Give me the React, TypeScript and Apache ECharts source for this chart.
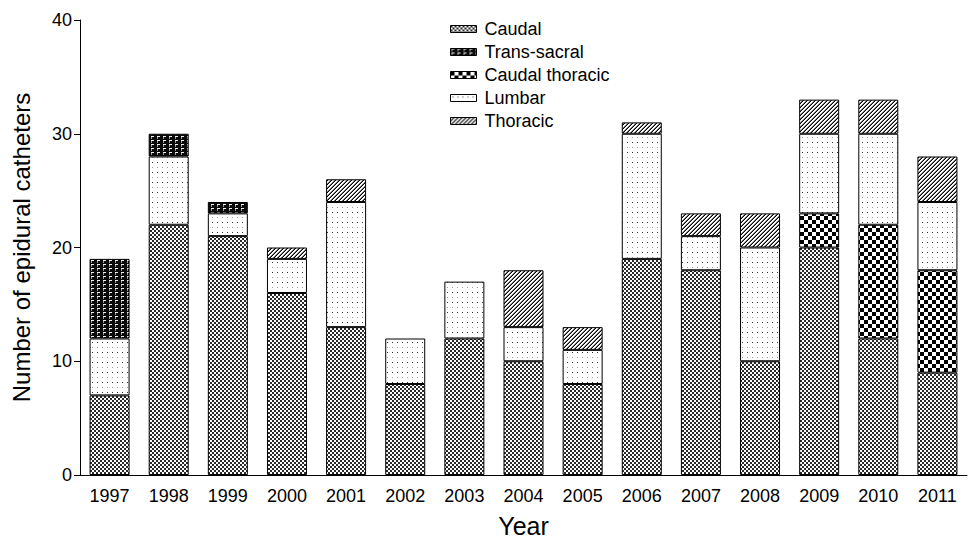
import React, { useEffect, useRef } from "react";
import * as echarts from "echarts";

const years = ["1997", "1998", "1999", "2000", "2001", "2002", "2003", "2004", "2005", "2006", "2007", "2008", "2009", "2010", "2011"];
const caudal = [7, 22, 21, 16, 13, 8, 12, 10, 8, 19, 18, 10, 20, 12, 9];
const caudalThoracic = [0, 0, 0, 0, 0, 0, 0, 0, 0, 0, 0, 0, 3, 10, 9];
const lumbar = [5, 6, 2, 3, 11, 4, 5, 3, 3, 11, 3, 10, 7, 8, 6];
const transSacral = [7, 2, 1, 0, 0, 0, 0, 0, 0, 0, 0, 0, 0, 0, 0];
const thoracic = [0, 0, 0, 1, 2, 0, 0, 5, 2, 1, 2, 3, 3, 3, 4];
const legendOrder = ["Caudal", "Trans-sacral", "Caudal thoracic", "Lumbar", "Thoracic"];

type Px = [number, number, number, number, string];

// Build a small repeating tile and hand it to ECharts as an image pattern.
function tile(w: number, h: number, bg: string, px: Px[]): any {
  const c = document.createElement("canvas");
  c.width = w;
  c.height = h;
  const ctx = c.getContext("2d")!;
  ctx.fillStyle = bg;
  ctx.fillRect(0, 0, w, h);
  for (const [x, y, pw, ph, col] of px) {
    ctx.fillStyle = col;
    ctx.fillRect(x, y, pw, ph);
  }
  return { image: c.toDataURL(), repeat: "repeat", imageWidth: w, imageHeight: h };
}

function patterns() {
  const caudalFill = tile(4, 4, "#ffffff", [
    [0, 0, 2, 2, "#2a2a2a"],
    [2, 2, 2, 2, "#2a2a2a"],
  ]);
  const ctFill = tile(8, 8, "#ffffff", [
    [0, 0, 4, 4, "#000"],
    [4, 4, 4, 4, "#000"],
  ]);
  const tsFill = tile(6, 4, "#0a0a0a", [
    [1, 0, 3, 1, "#f0f0f0"],
    [1, 1, 1, 2, "#9a9a9a"],
  ]);
  const lumbarFill = tile(5, 10, "#ffffff", [
    [2, 2, 1, 1, "#333"],
    [2, 7, 1, 1, "#999"],
  ]);
  const thFill = tile(4, 4, "#ffffff", [
    [3, 0, 1, 1, "#000"],
    [2, 1, 1, 1, "#000"],
    [1, 2, 1, 1, "#000"],
    [0, 3, 1, 1, "#000"],
    [2, 0, 1, 1, "#777"],
    [1, 1, 1, 1, "#777"],
    [0, 2, 1, 1, "#777"],
    [3, 3, 1, 1, "#777"],
  ]);
  return { caudalFill, ctFill, tsFill, lumbarFill, thFill };
}

const nz = (arr: number[]) => arr.map((v) => (v === 0 ? "-" : v));

export default function App() {
  const ref = useRef<HTMLDivElement>(null);

  useEffect(() => {
    if (!ref.current) return;
    const chart = echarts.init(ref.current, null, { renderer: "svg" });
    const p = patterns();
    const font = "'Liberation Sans', Arial, sans-serif";
    const bar = (name: string, data: number[], fill: any) => ({
      name,
      type: "bar",
      stack: "total",
      barWidth: 40,
      data: nz(data),
      itemStyle: { color: fill, borderColor: "#000", borderWidth: 1 },
      emphasis: { disabled: true },
    });
    chart.setOption({
      animation: false,
      textStyle: { fontFamily: font, color: "#000" },
      grid: { left: 80, right: 5, top: 20, bottom: 68, containLabel: false },
      legend: {
        data: legendOrder,
        orient: "vertical",
        left: 445,
        top: 15,
        icon: "rect",
        itemWidth: 26,
        itemHeight: 7,
        itemGap: 5,
        itemStyle: { borderColor: "#000", borderWidth: 1 },
        textStyle: { fontSize: 18, color: "#000", fontFamily: font, padding: [0, 0, 0, 3] },
        selectedMode: false,
      },
      xAxis: {
        type: "category",
        data: years,
        name: "Year",
        nameLocation: "middle",
        nameGap: 38,
        nameTextStyle: { fontSize: 25, color: "#000", fontFamily: font },
        axisLine: { lineStyle: { color: "#000", width: 1 } },
        axisTick: { alignWithLabel: true, length: 6, lineStyle: { color: "#000" } },
        axisLabel: { fontSize: 18, color: "#000", margin: 12, fontFamily: font },
      },
      yAxis: {
        type: "value",
        min: 0,
        max: 40,
        interval: 10,
        name: "Number of epidural catheters",
        nameLocation: "middle",
        nameGap: 47,
        nameTextStyle: { fontSize: 24, color: "#000", fontFamily: font },
        axisLine: { show: true, lineStyle: { color: "#000", width: 1 } },
        axisTick: { show: true, length: 6, lineStyle: { color: "#000" } },
        axisLabel: { fontSize: 18, color: "#000", margin: 8, fontFamily: font },
        splitLine: { show: false },
      },
      series: [
        bar("Caudal", caudal, p.caudalFill),
        bar("Caudal thoracic", caudalThoracic, p.ctFill),
        bar("Lumbar", lumbar, p.lumbarFill),
        bar("Trans-sacral", transSacral, p.tsFill),
        bar("Thoracic", thoracic, p.thFill),
      ],
    });
    return () => chart.dispose();
  }, []);

  return <div ref={ref} style={{ width: 972, height: 543, position: "absolute", left: 0, top: 0 }} />;
}
